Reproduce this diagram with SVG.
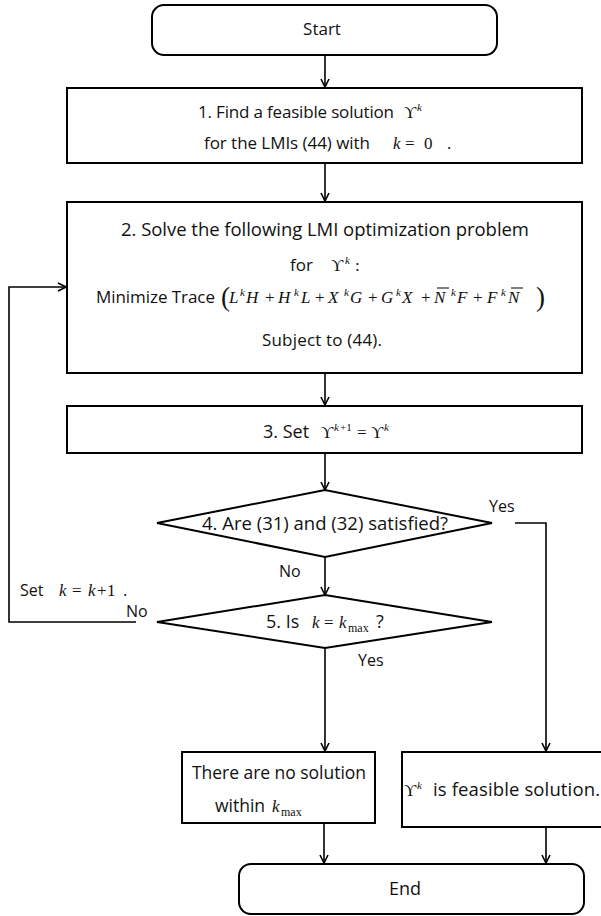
<svg xmlns="http://www.w3.org/2000/svg" width="601" height="916" viewBox="0 0 601 916">
<defs>
<style>
.box{fill:#fff;stroke:#000;stroke-width:2}
.ln{fill:none;stroke:#000;stroke-width:1.6}
.bar{stroke:#000;stroke-width:1}
.t{font-family:"Open Sans","Noto Sans",sans-serif;font-size:17px;fill:#111}
.m{font-family:"Liberation Serif","DejaVu Serif",serif;font-size:17px;font-style:italic;fill:#111}
.r{font-family:"Liberation Serif","DejaVu Serif",serif;font-size:17px;fill:#111}
.sup{font-family:"Liberation Serif","DejaVu Serif",serif;font-size:11px;font-style:italic;fill:#111}
.sub{font-family:"Liberation Serif","DejaVu Serif",serif;font-size:12px;fill:#111}
.p{font-family:"Liberation Serif","DejaVu Serif",serif;font-size:27px;fill:#111}
</style>
<marker id="ah" markerWidth="10" markerHeight="10" refX="9" refY="5" orient="auto" markerUnits="userSpaceOnUse">
<path d="M1,1 L9,5 L1,9" fill="none" stroke="#000" stroke-width="1.6"/>
</marker>
</defs>
<g id="connectors">
<line class="ln" x1="325" y1="55" x2="325" y2="87" marker-end="url(#ah)"/>
<line class="ln" x1="325" y1="163" x2="325" y2="201" marker-end="url(#ah)"/>
<line class="ln" x1="325" y1="373" x2="325" y2="405" marker-end="url(#ah)"/>
<line class="ln" x1="325" y1="453" x2="325" y2="490" marker-end="url(#ah)"/>
<line class="ln" x1="325" y1="557" x2="325" y2="595" marker-end="url(#ah)"/>
<line class="ln" x1="325" y1="648" x2="325" y2="751" marker-end="url(#ah)"/>
<polyline class="ln" points="515,523 546,523 546,751" marker-end="url(#ah)"/>
<polyline class="ln" points="136,622 9,622 9,287 66,287" marker-end="url(#ah)"/>
<line class="ln" x1="324" y1="823" x2="324" y2="863" marker-end="url(#ah)"/>
<line class="ln" x1="546" y1="827" x2="546" y2="863" marker-end="url(#ah)"/>
<text class="t" x="489" y="512" style="font-size:16px">Yes</text>
<text class="t" x="279" y="577" style="font-size:16px">No</text>
<text class="t" x="20" y="596" style="font-size:16px">Set</text>
<text class="m" x="59" y="596">k</text><text class="r" x="72" y="596">=</text><text class="m" x="88" y="596">k</text><text class="r" x="97" y="596">+</text><text class="r" x="107" y="596">1</text><text class="r" x="123" y="596">.</text>
<text class="t" x="126" y="617" style="font-size:16px">No</text>
<text class="t" x="358" y="666" style="font-size:16px">Yes</text>
</g>
<g id="start">
<rect class="box" x="152" y="5" width="345" height="50" rx="12"/>
<text class="t" x="322" y="35" text-anchor="middle">Start</text>
</g>
<g id="step1">
<rect class="box" x="67" y="88" width="515" height="75"/>
<text class="t" x="198" y="118" textLength="196">1. Find a feasible solution</text>
<text class="r" x="404" y="118">ϒ</text><text class="sup" x="417" y="111">k</text>
<text class="t" x="204" y="149" textLength="166">for the LMIs (44) with</text>
<text class="m" x="393" y="149">k</text><text class="r" x="405" y="149">=</text><text class="r" x="424" y="149">0</text><text class="r" x="447" y="149">.</text>
</g>
<g id="step2">
<rect class="box" x="67" y="202" width="515" height="171"/>
<text class="t" x="121" y="236" textLength="408" style="font-size:18.5px">2. Solve the following LMI optimization problem</text>
<text class="t" x="290" y="271">for</text>
<text class="r" x="331" y="271">ϒ</text><text class="sup" x="345" y="264">k</text><text class="r" x="355" y="271">:</text>
<text class="t" x="96" y="303" textLength="119">Minimize Trace</text>
<text class="p" x="221" y="306">(</text>
<text class="m" x="229" y="303">L</text><text class="sup" x="240" y="296">k</text><text class="m" x="246" y="303">H</text>
<text class="r" x="265" y="303">+</text>
<text class="m" x="278" y="303">H</text><text class="sup" x="294" y="296">k</text><text class="m" x="301" y="303">L</text>
<text class="r" x="315" y="303">+</text>
<text class="m" x="328" y="303">X</text><text class="sup" x="344" y="296">k</text><text class="m" x="350" y="303">G</text>
<text class="r" x="368" y="303">+</text>
<text class="m" x="381" y="303">G</text><text class="sup" x="396" y="296">k</text><text class="m" x="402" y="303">X</text>
<text class="r" x="421" y="303">+</text>
<text class="m" x="434" y="303">N</text><line class="bar" x1="437" y1="288" x2="449" y2="288"/><text class="sup" x="451" y="296">k</text><text class="m" x="457" y="303">F</text>
<text class="r" x="473" y="303">+</text>
<text class="m" x="487" y="303">F</text><text class="sup" x="501" y="296">k</text><text class="m" x="508" y="303">N</text><line class="bar" x1="511" y1="288" x2="523" y2="288"/>
<text class="p" x="536" y="306">)</text>
<text class="t" x="262" y="346" textLength="120">Subject to (44).</text>
</g>
<g id="step3">
<rect class="box" x="67" y="406" width="515" height="47"/>
<text class="t" x="263" y="438" style="font-size:18px">3. Set</text>
<text class="r" x="321" y="438">ϒ</text><text class="sup" x="334" y="431">k</text><text class="sup" x="340" y="431" style="font-style:normal">+1</text>
<text class="r" x="357" y="438">=</text><text class="r" x="371" y="438">ϒ</text><text class="sup" x="384" y="431">k</text>
</g>
<g id="decision4">
<polygon class="box" points="157,523 325,490 492,523 325,557"/>
<text class="t" x="202" y="530" textLength="246" style="font-size:18.5px">4. Are (31) and (32) satisfied?</text>
</g>
<g id="decision5">
<polygon class="box" points="157,622 325,595 492,622 325,648"/>
<text class="t" x="266" y="628" style="font-size:18px">5. Is</text>
<text class="m" x="312" y="628">k</text><text class="r" x="324" y="628">=</text><text class="m" x="339" y="628">k</text><text class="sub" x="348" y="632">max</text>
<text class="t" x="376" y="628" style="font-size:18px">?</text>
</g>
<g id="nosolution">
<rect class="box" x="182" y="752" width="193" height="71"/>
<text class="t" x="192" y="779" textLength="174" style="font-size:17.5px">There are no solution</text>
<text class="t" x="215" y="812" style="font-size:17.5px">within</text>
<text class="m" x="272" y="812">k</text><text class="sub" x="281" y="816">max</text>
</g>
<g id="feasible">
<rect class="box" x="402" y="752" width="205" height="75"/>
<text class="r" x="404" y="796">ϒ</text><text class="sup" x="417" y="789">k</text>
<text class="t" x="433" y="796" textLength="167" style="font-size:18.5px">is feasible solution.</text>
</g>
<g id="end">
<rect class="box" x="239" y="864" width="345" height="50" rx="12"/>
<text class="t" x="405" y="895" text-anchor="middle" style="font-size:18px">End</text>
</g>
</svg>
